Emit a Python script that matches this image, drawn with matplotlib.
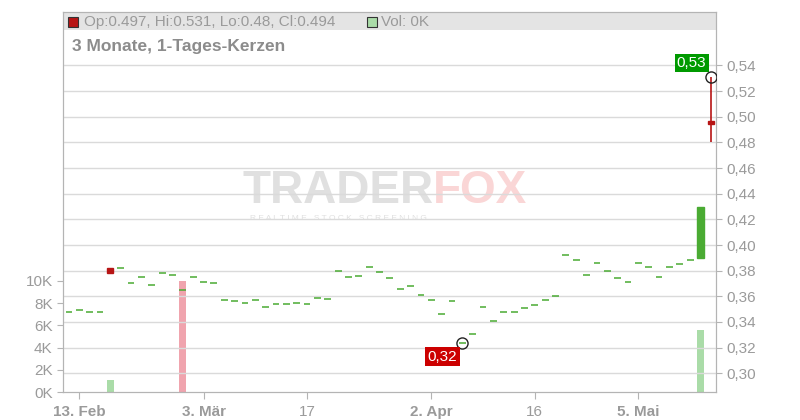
import matplotlib
matplotlib.use("Agg")
import matplotlib.pyplot as plt
from matplotlib.patches import Rectangle

plt.rcParams['font.family'] = ['Liberation Sans', 'DejaVu Sans']

# --- Daten (Handelstage, Index 0 = 13. Feb) ---
tage = list(range(-1, 62))
eroeffnung = [0.3475, 0.349, 0.348, 0.3475, 0.382, 0.382, 0.370, 0.375, 0.369, 0.378,
              0.377, 0.365, 0.375, 0.371, 0.370, 0.357, 0.356, 0.355, 0.357, 0.352,
              0.354, 0.354, 0.355, 0.354, 0.359, 0.358, 0.380, 0.375, 0.376, 0.383,
              0.379, 0.374, 0.366, 0.368, 0.361, 0.357, 0.346, 0.356, 0.324, 0.331,
              0.352, 0.341, 0.348, 0.3475, 0.351, 0.353, 0.357, 0.360, 0.392, 0.388,
              0.377, 0.386, 0.380, 0.374, 0.371, 0.386, 0.383, 0.375, 0.383, 0.385,
              0.388, 0.390, 0.497]
schluss = list(eroeffnung)
schluss[4] = 0.378      # 18. Feb, rote Kerze
schluss[61] = 0.430     # vorletzter Tag, gruene Kerze
schluss[62] = 0.494     # letzter Tag
hoch = list(schluss)
tief = list(schluss)
hoch[62] = 0.531
tief[62] = 0.480
volumen = [0.0] * len(tage)
volumen[4] = 1.1
volumen[11] = 10.0
volumen[61] = 5.6

tick_pos = [0, 12, 22, 34, 44, 54]
tick_txt = ["13. Feb", "3. Mär", "17", "2. Apr", "16", "5. Mai"]
tick_fett = [True, True, False, True, False, True]
preis_ticks = [0.30, 0.32, 0.34, 0.36, 0.38, 0.40, 0.42, 0.44, 0.46, 0.48, 0.50, 0.52, 0.54]
vol_ticks = [0, 2, 4, 6, 8, 10]

GRUEN = '#4aab33'
ROT = '#b71515'
GRAU = '#9a9a9a'

fig = plt.figure(figsize=(8, 4.2), dpi=100)
ax_vol = fig.add_axes([63 / 800, 27.7 / 420, 653 / 800, 380.3 / 420])
ax = ax_vol.twinx()

# Kopfzeile (grau hinterlegt)
ax_vol.add_patch(Rectangle((0, 0.9527), 1, 0.0473, transform=ax_vol.transAxes,
                           color='#e4e4e4', zorder=0, lw=0))

# Wasserzeichen
ax_vol.text(0.567, 0.53, "TRADER", transform=ax_vol.transAxes, ha='right', va='center',
            fontsize=33, fontweight='bold', color='#e0e0e0', zorder=0)
ax_vol.text(0.567, 0.53, "FOX", transform=ax_vol.transAxes, ha='left', va='center',
            fontsize=33, fontweight='bold', color='#fad6d6', zorder=0)
ax_vol.text(0.286, 0.456, "R E A L T I M E   S T O C K   S C R E E N I N G",
            transform=ax_vol.transAxes, ha='left', va='center', fontsize=6,
            color='#e0e0e0', zorder=0)

# Volumen
vol_farben = []
for i in range(len(tage)):
    if i > 0 and schluss[i] < schluss[i - 1]:
        vol_farben.append('#f0a4ae')
    else:
        vol_farben.append('#aadca8')
ax_vol.bar(tage, volumen, width=0.68, color=vol_farben, zorder=2)
ax_vol.set_ylim(0, 34.08)
ax_vol.set_yticks(vol_ticks)
ax_vol.set_yticklabels([f"{v}K" for v in vol_ticks])

# Kerzen
for t, o, h, l, c in zip(tage, eroeffnung, hoch, tief, schluss):
    farbe = GRUEN if c >= o else ROT
    if h > max(o, c) or l < min(o, c):
        ax.vlines(t, l, h, color=farbe, lw=1.2, zorder=3)
    if o == c:
        ax.hlines(c, t - 0.33, t + 0.33, color=farbe, lw=1.1, zorder=3)
    else:
        ax.bar(t, abs(c - o), bottom=min(o, c), width=0.6, color=farbe,
               edgecolor=farbe, lw=1, zorder=4)

# Hoch / Tief Markierungen
i_hoch = hoch.index(max(hoch))
i_tief = tief.index(min(tief))
ax.plot(tage[i_hoch], hoch[i_hoch], 'o', mfc='none', mec='#222', ms=8, mew=1, zorder=5)
ax.plot(tage[i_tief], tief[i_tief], 'o', mfc='none', mec='#222', ms=8, mew=1, zorder=5)
ax.annotate(f"{hoch[i_hoch]:.2f}".replace('.', ','), (tage[i_hoch], hoch[i_hoch]),
            xytext=(-13.8, 10), textcoords='offset points', ha='center', va='center',
            color='white', fontsize=11,
            bbox=dict(boxstyle='square,pad=0.15', fc='#009a00', ec='none'), zorder=6)
ax.annotate(f"{tief[i_tief]:.2f}".replace('.', ','), (tage[i_tief], tief[i_tief]),
            xytext=(-14.3, -10.2), textcoords='offset points', ha='center', va='center',
            color='white', fontsize=11,
            bbox=dict(boxstyle='square,pad=0.15', fc='#cc0000', ec='none'), zorder=6)

ax.set_ylim(0.28519, 0.58161)
ax.set_xlim(-1.575, 61.5)
ax.set_yticks(preis_ticks)
ax.set_yticklabels([f"{p:.2f}".replace('.', ',') for p in preis_ticks])
ax.grid(True, color='#dadada', lw=1, zorder=1)
ax.set_axisbelow(True)

ax_vol.set_xticks(tick_pos)
ax_vol.set_xticklabels(tick_txt)
for lab, fett in zip(ax_vol.get_xticklabels(), tick_fett):
    lab.set_fontweight('bold' if fett else 'normal')
ax.set_xticks(tick_pos)

for a in (ax, ax_vol):
    for s in a.spines.values():
        s.set_color('#b4b4b4')
    a.tick_params(colors='#b4b4b4', labelcolor=GRAU, labelsize=11, length=4)
ax_vol.tick_params(axis='x', length=5, pad=4)
ax_vol.set_xlim(ax.get_xlim())

# Kopfzeilen-Texte
fig.patches.append(Rectangle((68 / 800, 1 - 27 / 420), 10 / 800, 10 / 420,
                             transform=fig.transFigure, fc=ROT, ec='#333', lw=0.8))
fig.text(84 / 800, 1 - 22 / 420, "Op:0.497, Hi:0.531, Lo:0.48, Cl:0.494",
         ha='left', va='center', color=GRAU, fontsize=11)
fig.patches.append(Rectangle((367 / 800, 1 - 27 / 420), 10 / 800, 10 / 420,
                             transform=fig.transFigure, fc='#aadca8', ec='#333', lw=0.8))
fig.text(381 / 800, 1 - 22 / 420, "Vol: 0K", ha='left', va='center', color=GRAU, fontsize=11)
fig.text(72 / 800, 1 - 47 / 420, "3 Monate, 1-Tages-Kerzen", ha='left', va='center',
         color='#8c8c8c', fontsize=12.5, fontweight='bold')

fig.savefig("out.png", dpi=100)
